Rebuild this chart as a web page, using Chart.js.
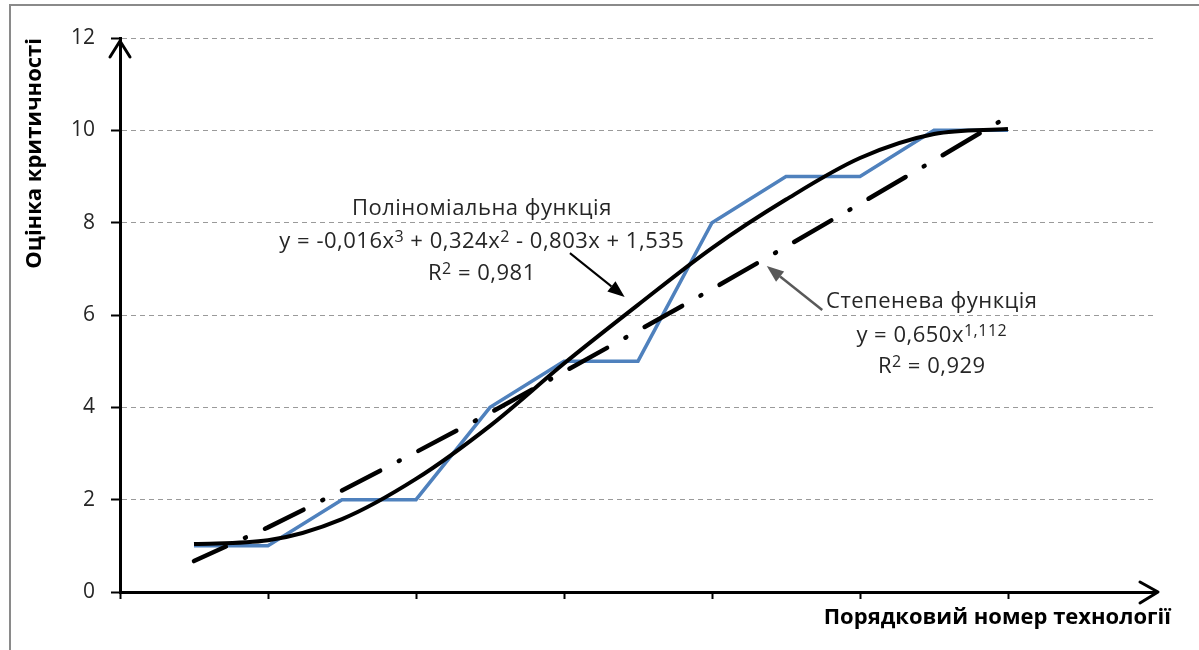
<!DOCTYPE html>
<html>
<head>
<meta charset="utf-8">
<script src="https://cdn.jsdelivr.net/npm/chart.js@4.4.1/dist/chart.umd.min.js"></script>
<style>
html, body { margin: 0; padding: 0; background: #fff; }
#wrap { position: relative; width: 1199px; height: 650px; overflow: hidden; }
#frame { position: absolute; left: 9px; top: 4px; width: 1300px; height: 800px;
         border-left: 2px solid #8a8a8a; border-top: 2px solid #8a8a8a; }
canvas { position: absolute; left: 0; top: 0; }
</style>
</head>
<body>
<div id="wrap"><div id="frame"></div><canvas id="c" width="1199" height="650"></canvas></div>
<script>
// technology number and criticality score
const techNo   = [1, 2, 3, 4, 5, 6, 7, 8, 9, 10, 11, 12];
const scores   = [1, 1, 2, 2, 4, 5, 5, 8, 9, 9, 10, 10];
// trend lines
const polyFit  = [1.04, 1.12, 1.58, 2.45, 3.6, 4.95, 6.22, 7.45, 8.5, 9.4, 9.92, 10.03];
const powerFit = [0.67, 1.4, 2.2, 3.03, 3.88, 4.77, 5.66, 6.56, 7.48, 8.41, 9.35, 10.3];
const yTicks   = [0, 2, 4, 6, 8, 10, 12];

const FONT = '"Open Sans", Lato, sans-serif';

// label lines: [text, superscript?]
const polyText = [
  [['Поліноміальна функція', false]],
  [['y = -0,016x', false], ['3', true], [' + 0,324x', false], ['2', true], [' - 0,803x + 1,535', false]],
  [['R', false], ['2', true], [' = 0,981', false]]
];
const powerText = [
  [['Степенева функція', false]],
  [['y = 0,650x', false], ['1,112', true]],
  [['R', false], ['2', true], [' = 0,929', false]]
];

const pts = ys => techNo.map((x, i) => ({x: x, y: ys[i]}));

function richLine(ctx, parts, cx, by, size) {
  const fonts = parts.map(p => (p[1] ? Math.round(size * 0.72) : size) + 'px ' + FONT);
  ctx.letterSpacing = '0.5px';
  let w = 0;
  parts.forEach((p, i) => { ctx.font = fonts[i]; w += ctx.measureText(p[0]).width; });
  let x = cx - w / 2;
  ctx.textAlign = 'left';
  ctx.textBaseline = 'alphabetic';
  parts.forEach((p, i) => {
    ctx.font = fonts[i];
    ctx.fillText(p[0], x, p[1] ? by - size * 0.28 : by);
    x += ctx.measureText(p[0]).width;
  });
  ctx.letterSpacing = '0px';
}

function arrow(ctx, x1, y1, x2, y2, color, lw, hl, hw) {
  const a = Math.atan2(y2 - y1, x2 - x1);
  const bx = x2 - hl * Math.cos(a), by = y2 - hl * Math.sin(a);
  ctx.strokeStyle = color; ctx.fillStyle = color; ctx.lineWidth = lw;
  ctx.beginPath(); ctx.moveTo(x1, y1); ctx.lineTo(bx, by); ctx.stroke();
  ctx.beginPath();
  ctx.moveTo(x2, y2);
  ctx.lineTo(bx + hw / 2 * Math.sin(a), by - hw / 2 * Math.cos(a));
  ctx.lineTo(bx - hw / 2 * Math.sin(a), by + hw / 2 * Math.cos(a));
  ctx.closePath(); ctx.fill();
}

const extras = {
  id: 'extras',
  afterDraw(chart) {
    const {ctx, chartArea: ca, scales: {x, y}} = chart;
    ctx.save();
    // axis arrows
    ctx.strokeStyle = '#000'; ctx.lineWidth = 3; ctx.lineCap = 'round'; ctx.lineJoin = 'round';
    ctx.beginPath();
    ctx.moveTo(ca.left - 10, ca.top + 19); ctx.lineTo(ca.left, ca.top + 3); ctx.lineTo(ca.left + 10, ca.top + 19);
    ctx.stroke();
    ctx.beginPath();
    ctx.moveTo(ca.right - 16, ca.bottom - 10); ctx.lineTo(ca.right + 2, ca.bottom); ctx.lineTo(ca.right - 16, ca.bottom + 11);
    ctx.stroke();
    ctx.lineCap = 'butt';

    // pointer arrows
    arrow(ctx, x.getPixelForValue(6.08), y.getPixelForValue(7.34),
               x.getPixelForValue(6.82), y.getPixelForValue(6.39), '#000', 2, 17, 13);
    arrow(ctx, x.getPixelForValue(9.49), y.getPixelForValue(6.11),
               x.getPixelForValue(8.74), y.getPixelForValue(7.06), '#595959', 2.5, 17, 13);

    // labels
    ctx.fillStyle = '#262626';
    const pb = [8.17, 7.45, 6.76], wb = [6.15, 5.42, 4.74];
    polyText.forEach((ln, i) => richLine(ctx, ln, x.getPixelForValue(4.89), y.getPixelForValue(pb[i]), 22));
    powerText.forEach((ln, i) => richLine(ctx, ln, x.getPixelForValue(10.97), y.getPixelForValue(wb[i]), 22));

    // x axis title
    ctx.fillStyle = '#000';
    ctx.font = 'bold 22px ' + FONT;
    ctx.textAlign = 'right'; ctx.textBaseline = 'alphabetic';
    ctx.fillText('Порядковий номер технології', 1171, 624);
    ctx.restore();
  }
};

new Chart(document.getElementById('c'), {
  type: 'line',
  data: {
    datasets: [
      {data: pts(polyFit), borderColor: '#000', borderWidth: 4, pointRadius: 0,
       cubicInterpolationMode: 'monotone', order: 1},
      {data: pts(powerFit), borderColor: '#000', borderWidth: 4.5, pointRadius: 0,
       borderDash: [43, 21, 1, 21], borderDashOffset: 8, borderCapStyle: 'round', order: 2},
      {data: pts(scores), borderColor: '#4F81BD', borderWidth: 3.5, pointRadius: 0,
       tension: 0, order: 3}
    ]
  },
  options: {
    responsive: false,
    animation: false,
    layout: {padding: {top: 38, right: 43, left: 0, bottom: 0}},
    plugins: {legend: {display: false}, tooltip: {enabled: false}},
    scales: {
      x: {
        type: 'linear', min: 0, max: 14,
        afterFit: s => { s.height = 58; },
        ticks: {stepSize: 2, display: false},
        grid: {drawOnChartArea: false, drawTicks: true, tickLength: 7, tickWidth: 2,
               tickColor: c => c.tick && c.tick.value === 14 ? 'rgba(0,0,0,0)' : '#000', tickBorderDash: []},
        border: {color: '#000', width: 3}
      },
      y: {
        min: 0, max: 12,
        afterFit: s => { s.width = 120; },
        afterBuildTicks: s => { s.ticks = yTicks.map(v => ({value: v})); },
        ticks: {padding: 16, color: '#262626', font: {family: FONT, size: 21}},
        grid: {color: c => c.tick && c.tick.value === 0 ? 'rgba(0,0,0,0)' : '#9a9a9a',
               lineWidth: 1, tickLength: 9, tickWidth: 2, tickColor: '#000', tickBorderDash: []},
        border: {color: '#000', width: 3, dash: [5, 4]},
        title: {display: true, text: 'Оцінка критичності', align: 'end', color: '#000',
                font: {family: FONT, size: 22, weight: 'bold'}, padding: {top: 22, bottom: 0}}
      }
    }
  },
  plugins: [extras]
});
</script>
</body>
</html>
